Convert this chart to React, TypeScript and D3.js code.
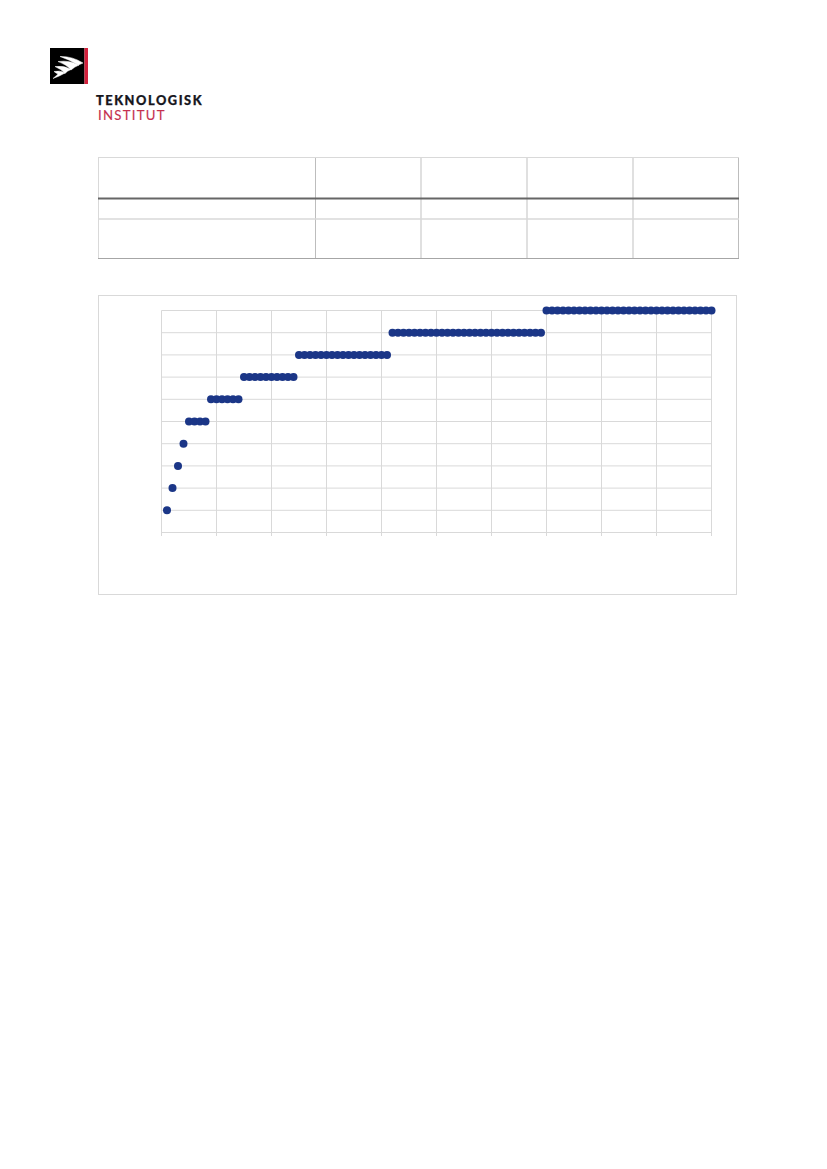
import { useEffect, useRef } from 'react'
import * as d3 from 'd3'

// one point per row
const xValues = [
  1, 2, 3, 4, 5, 6, 7, 8, 9, 10, 11, 12, 13, 14, 15, 16, 17, 18, 19, 20,
  21, 22, 23, 24, 25, 26, 27, 28, 29, 30, 31, 32, 33, 34, 35, 36, 37, 38, 39, 40,
  41, 42, 43, 44, 45, 46, 47, 48, 49, 50, 51, 52, 53, 54, 55, 56, 57, 58, 59, 60,
  61, 62, 63, 64, 65, 66, 67, 68, 69, 70, 71, 72, 73, 74, 75, 76, 77, 78, 79, 80,
  81, 82, 83, 84, 85, 86, 87, 88, 89, 90, 91, 92, 93, 94, 95, 96, 97, 98, 99, 100,
]
const yValues = [
  1, 2, 3, 4, 5, 5, 5, 5, 6, 6, 6, 6, 6, 6, 7, 7, 7, 7, 7, 7,
  7, 7, 7, 7, 8, 8, 8, 8, 8, 8, 8, 8, 8, 8, 8, 8, 8, 8, 8, 8,
  8, 9, 9, 9, 9, 9, 9, 9, 9, 9, 9, 9, 9, 9, 9, 9, 9, 9, 9, 9,
  9, 9, 9, 9, 9, 9, 9, 9, 9, 10, 10, 10, 10, 10, 10, 10, 10, 10, 10, 10,
  10, 10, 10, 10, 10, 10, 10, 10, 10, 10, 10, 10, 10, 10, 10, 10, 10, 10, 10, 10,
]
const xTicks = [0, 10, 20, 30, 40, 50, 60, 70, 80, 90, 100]
const yTicks = [0, 1, 2, 3, 4, 5, 6, 7, 8, 9, 10]

const logoTop = 'TEKNOLOGISK'
const logoBottom = 'INSTITUT'

// table rules, the text of the table is blanked out in the source page
const tableCols = [98.5, 315.5, 421, 527, 633, 738.5]
const tableRows = [157.5, 198.5, 219, 258.5]

const grey = '#d9d9d9'

export default function App() {
  const axisXRef = useRef<SVGGElement | null>(null)
  const axisYRef = useRef<SVGGElement | null>(null)
  const dotsRef = useRef<SVGGElement | null>(null)

  useEffect(() => {
    const walkX = d3.scaleLinear().domain([0, 100]).range([161.5, 711.5])
    const walkY = d3.scaleLinear().domain([0, 10]).range([532.5, 310.5])

    const axisX = d3
      .axisBottom(walkX)
      .tickValues(xTicks)
      .tickSize(-225.5)
      .offset(0)
      .tickFormat(() => '')
    const gx = d3.select(axisXRef.current).attr('transform', 'translate(0,536)').call(axisX as any)
    gx.select('.domain').remove()
    gx.selectAll('line').attr('stroke', grey).attr('stroke-width', 1)

    const axisY = d3
      .axisLeft(walkY)
      .tickValues(yTicks)
      .tickSize(-550)
      .offset(0)
      .tickFormat(() => '')
    const gy = d3.select(axisYRef.current).attr('transform', 'translate(161.5,0)').call(axisY as any)
    gy.select('.domain').remove()
    gy.selectAll('line').attr('stroke', grey).attr('stroke-width', 1)

    d3.select(dotsRef.current)
      .selectAll('circle')
      .data(xValues)
      .join('circle')
      .attr('cx', (d) => walkX(d))
      .attr('cy', (_, i) => walkY(yValues[i]))
      .attr('r', 4)
      .style('fill', '#1b3687')
  }, [])

  return (
    <svg width={827} height={1169} style={{ position: 'absolute', left: 0, top: 0, background: '#fff' }}>
      {/* logo */}
      <rect x={50} y={48} width={34.5} height={36} fill="#000" />
      <rect x={84.5} y={48} width={3.5} height={36} fill="#d4213d" />
      <g fill="#fff" stroke="#fff" strokeWidth={0.5} strokeLinejoin="round">
        <path d="M60 56.5 Q72 56 83 63 L78.5 65 Q70 60 60 56.5 Z" />
        <path d="M58 61.5 Q70 60 79 65 Q74 67 71 70 Q66 64 58 61.5 Z" />
        <path d="M55 66.5 Q64 65 71 69.5 Q67 71 65 73.5 Q61 69 55 66.5 Z" />
        <path d="M54 71.5 Q60 70 65 73 Q60 76 53 78.5 Q57 75 58 74 Q56 73 54 71.5 Z" />
      </g>
      <text
        x={96}
        y={105}
        fontFamily="Lato"
        fontWeight={900}
        fontSize={12.8}
        letterSpacing={1.55}
        fill="#16161d"
        stroke="#16161d"
        strokeWidth={0.25}
      >
        {logoTop}
      </text>
      <text x={98} y={120} fontFamily="Lato" fontSize={13.2} letterSpacing={1.25} fill="#c5304f" stroke="#c5304f" strokeWidth={0.15}>
        {logoBottom}
      </text>

      {/* table rules */}
      <g>
        {tableCols.map((x, i) => (
          <line
            key={x}
            x1={x}
            x2={x}
            y1={157}
            y2={259}
            stroke={i === 1 || i === 5 ? '#bdbdbd' : grey}
            strokeWidth={i === 0 || i === 1 || i === 5 ? 1 : 1.6}
          />
        ))}
        <line x1={98} x2={739} y1={tableRows[0]} y2={tableRows[0]} stroke={grey} strokeWidth={1} />
        <line x1={98} x2={739} y1={tableRows[1]} y2={tableRows[1]} stroke="#666666" strokeWidth={2} />
        <line x1={98} x2={739} y1={tableRows[2]} y2={tableRows[2]} stroke={grey} strokeWidth={1.6} />
        <line x1={98} x2={739} y1={tableRows[3]} y2={tableRows[3]} stroke="#a6a6a6" strokeWidth={1} />
      </g>

      {/* chart frame */}
      <rect x={98.5} y={295.5} width={638} height={299} fill="#fff" stroke={grey} strokeWidth={1} />
      <g ref={axisYRef} />
      <g ref={axisXRef} />
      <g ref={dotsRef} />
    </svg>
  )
}
